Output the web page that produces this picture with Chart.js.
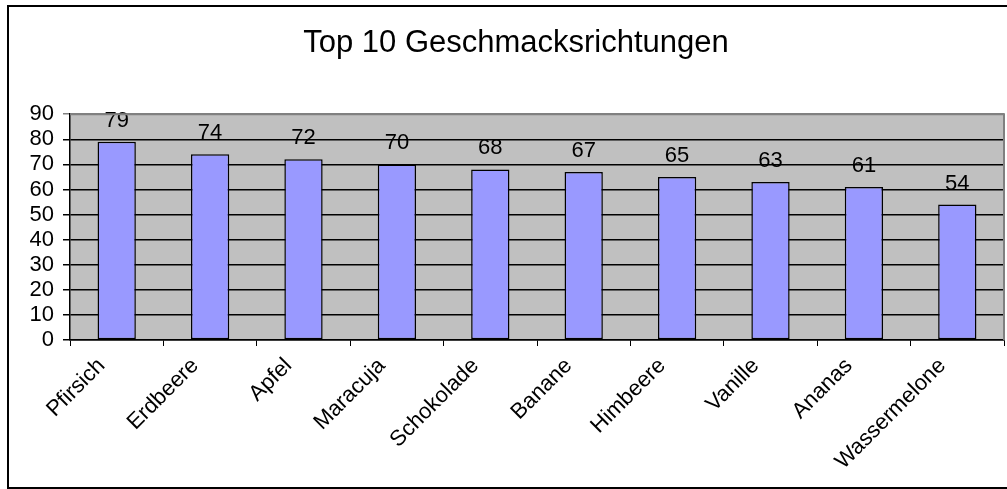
<!DOCTYPE html>
<html>
<head>
<meta charset="utf-8">
<script src="https://cdn.jsdelivr.net/npm/chart.js@4.4.1/dist/chart.umd.min.js"></script>
<style>
  body { margin: 0; background: #fff; overflow: hidden; }
  canvas { display: block; }
</style>
</head>
<body>
<canvas id="flavours" width="1007" height="489"></canvas>
<script>
const flavours = ['Pfirsich', 'Erdbeere', 'Apfel', 'Maracuja', 'Schokolade',
  'Banane', 'Himbeere', 'Vanille', 'Ananas', 'Wassermelone'];
const votes = [79, 74, 72, 70, 68, 67, 65, 63, 61, 54];
const yTicks = [0, 10, 20, 30, 40, 50, 60, 70, 80, 90];

const font = 'Liberation Sans, Arial, sans-serif';

// grey plot background, frame and the outer black border
const frame = {
  id: 'frame',
  beforeDraw(chart) {
    const { ctx, chartArea: a } = chart;
    ctx.save();
    ctx.fillStyle = '#fff';
    ctx.fillRect(0, 0, chart.width, chart.height);
    ctx.strokeStyle = '#000';
    ctx.lineWidth = 2;
    ctx.strokeRect(8, 6, 1100, 482);
    ctx.fillStyle = '#c0c0c0';
    ctx.fillRect(a.left, a.top, a.right - a.left, a.bottom - a.top);
    ctx.restore();
  },
  afterDraw(chart) {
    const { ctx, chartArea: a } = chart;
    ctx.save();
    ctx.strokeStyle = '#808080';
    ctx.lineWidth = 2;
    ctx.beginPath();
    ctx.moveTo(a.left, a.top);
    ctx.lineTo(a.right, a.top);
    ctx.lineTo(a.right, a.bottom);
    ctx.stroke();
    ctx.restore();
  }
};

// value labels above the bars
const valueLabels = {
  id: 'valueLabels',
  afterDatasetsDraw(chart) {
    const { ctx } = chart;
    ctx.save();
    ctx.font = '22px ' + font;
    ctx.fillStyle = '#000';
    ctx.textAlign = 'center';
    ctx.textBaseline = 'alphabetic';
    chart.getDatasetMeta(0).data.forEach((bar, i) => {
      ctx.fillText(String(votes[i]), bar.x, bar.y - 15);
    });
    ctx.restore();
  }
};

new Chart(document.getElementById('flavours'), {
  type: 'bar',
  plugins: [frame, valueLabels],
  data: {
    labels: flavours,
    datasets: [{
      data: votes,
      backgroundColor: '#9999ff',
      borderColor: '#000',
      borderWidth: 1.5,
      borderSkipped: false,
      barPercentage: 0.41,
      categoryPercentage: 1
    }]
  },
  options: {
    responsive: false,
    animation: false,
    layout: { padding: { left: 28, right: 3, top: 0, bottom: 0 } },
    plugins: {
      legend: { display: false },
      tooltip: { enabled: false },
      title: {
        display: true,
        text: 'Top 10 Geschmacksrichtungen',
        color: '#000',
        font: { family: font, size: 31, weight: 'normal' },
        padding: { top: 25, bottom: 52 }
      }
    },
    scales: {
      x: {
        afterFit(scale) { scale.height = 149; },
        grid: { drawOnChartArea: false, drawTicks: true, tickLength: 6, color: '#000' },
        border: { color: '#000', width: 1.5 },
        ticks: {
          autoSkip: false,
          minRotation: 45,
          maxRotation: 45,
          padding: 7,
          labelOffset: -15,
          color: '#000',
          font: { family: font, size: 22 }
        }
      },
      y: {
        min: 0,
        max: 90,
        afterFit(scale) { scale.width = 42; },
        afterBuildTicks(scale) { scale.ticks = yTicks.map(v => ({ value: v })); },
        grid: {
          color: ctx => ctx.tick && ctx.tick.value === 90 ? '#808080' : '#000',
          lineWidth: 1.5,
          tickLength: 7
        },
        border: { color: '#000', width: 1.5 },
        ticks: {
          autoSkip: false,
          stepSize: 10,
          padding: 9,
          color: '#000',
          font: { family: font, size: 22, lineHeight: 1 }
        }
      }
    }
  }
});
</script>
</body>
</html>
